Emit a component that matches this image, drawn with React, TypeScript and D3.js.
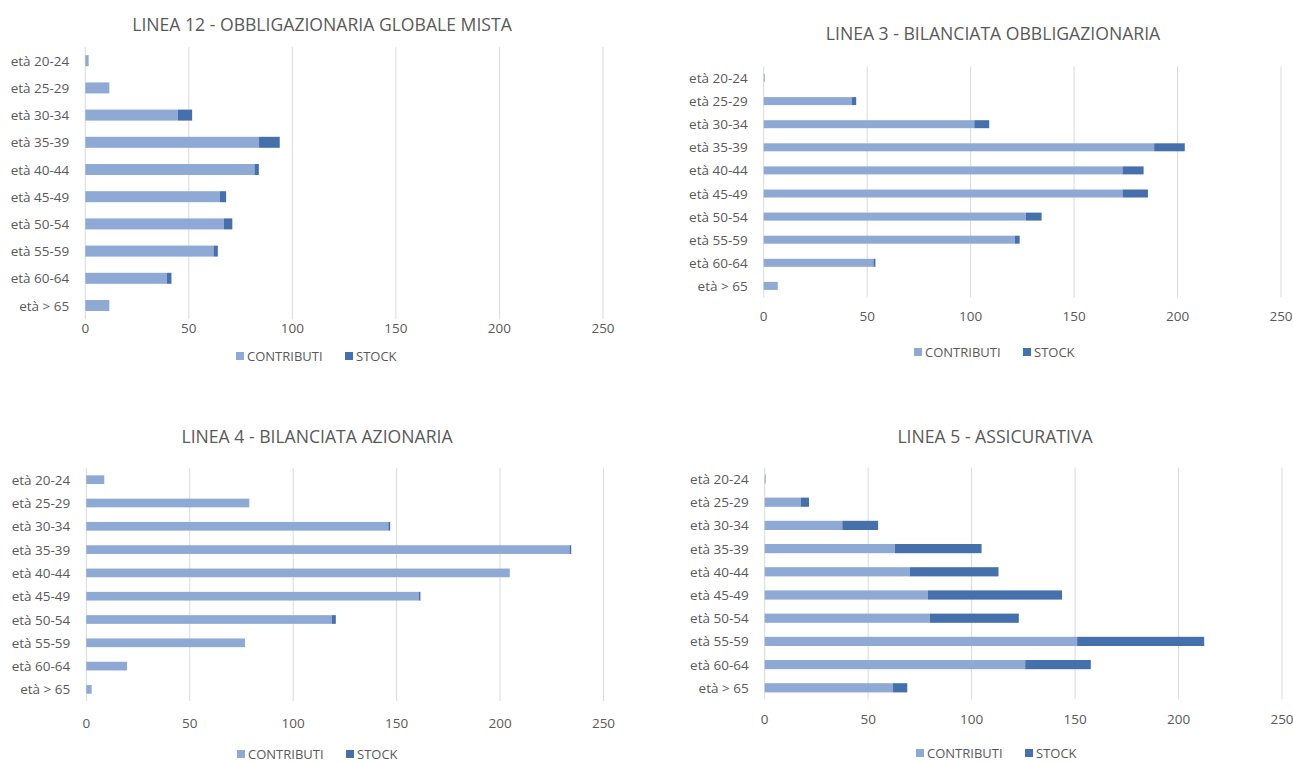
import React from "react";
import * as d3 from "d3";

const categories = ["età 20-24", "età 25-29", "età 30-34", "età 35-39", "età 40-44", "età 45-49", "età 50-54", "età 55-59", "età 60-64", "età > 65"];
const xTicks = [0, 50, 100, 150, 200, 250];
const seriesNames = ["CONTRIBUTI", "STOCK"];

const titles = [
  "LINEA 12 - OBBLIGAZIONARIA GLOBALE MISTA",
  "LINEA 3 - BILANCIATA OBBLIGAZIONARIA",
  "LINEA 4 - BILANCIATA AZIONARIA",
  "LINEA 5 - ASSICURATIVA",
];

const linea12Contributi = [1.6, 11.6, 44.7, 83.9, 81.7, 65, 66.9, 61.9, 39.4, 11.6];
const linea12Stock = [0, 0, 6.9, 10, 2.1, 3, 4.1, 2.1, 2.2, 0];
const linea3Contributi = [0.5, 42.6, 101.8, 188.7, 173.4, 173.4, 126.7, 121.4, 53, 6.8];
const linea3Stock = [0, 2.1, 7.2, 14.8, 10.2, 12.3, 7.6, 2.3, 1, 0];
const linea4Contributi = [8.7, 78.8, 146, 233.6, 204.7, 160.7, 118.7, 76.7, 19.7, 2.6];
const linea4Stock = [0, 0, 0.9, 0.8, 0, 0.8, 1.9, 0, 0, 0];
const linea5Contributi = [0.5, 17.4, 37.5, 62.9, 70.1, 78.9, 79.8, 151, 125.9, 61.9];
const linea5Stock = [0, 4, 17.3, 41.9, 42.9, 64.8, 43, 61.4, 31.7, 7];

const panelData = [
  [linea12Contributi, linea12Stock],
  [linea3Contributi, linea3Stock],
  [linea4Contributi, linea4Stock],
  [linea5Contributi, linea5Stock],
];

// layout (pixels)
const layouts = [
  { titleX: 322, titleY: 24, x0: 85.3, x1: 603, firstY: 60.7, step: 27.2, barH: 11, tickY: 328, legendX: 236, legendY: 356 },
  { titleX: 993, titleY: 33, x0: 763.7, x1: 1281, firstY: 78, step: 23.1, barH: 8, tickY: 316, legendX: 914, legendY: 352 },
  { titleX: 317, titleY: 436, x0: 86.3, x1: 603.5, firstY: 479.7, step: 23.3, barH: 8.7, tickY: 723, legendX: 237, legendY: 754 },
  { titleX: 995, titleY: 436, x0: 764.7, x1: 1282, firstY: 479, step: 23.2, barH: 9.2, tickY: 719, legendX: 916, legendY: 753 },
];

const colors = ["#8FA9D5", "#4670AB"];
const textColor = "#595959";
const gridColor = "#D9D9D9";
const font = "'Open Sans', sans-serif";

function Panel({ idx }: { idx: number }) {
  const L = layouts[idx];
  const [contrib, stock] = panelData[idx];
  const x = d3.scaleLinear().domain([0, 250]).range([L.x0, L.x1]);
  const top = L.firstY - L.step / 2;
  const bottom = top + L.step * categories.length;
  const y = d3.scaleBand<string>().domain(categories).range([top, bottom]).paddingInner(0).paddingOuter(0);
  const stacked = d3.stack<number>().keys([0, 1] as any).value((i: any, k: any) => (k === 0 ? contrib[i] : stock[i]))(d3.range(categories.length) as any);

  return (
    <g>
      <text x={L.titleX} y={L.titleY} textAnchor="middle" dominantBaseline="central" fontSize={17.6} fill={textColor} fontFamily={font}>
        {titles[idx]}
      </text>
      {xTicks.map((t) => (
        <g key={t}>
          <line x1={x(t)} x2={x(t)} y1={top} y2={bottom} stroke={gridColor} strokeWidth={1} />
          <text x={x(t)} y={L.tickY} textAnchor="middle" dominantBaseline="central" fontSize={13.5} fill={textColor} fontFamily={font}>
            {t}
          </text>
        </g>
      ))}
      {categories.map((c) => (
        <text key={c} x={L.x0 - 16} y={(y(c) as number) + y.bandwidth() / 2} textAnchor="end" dominantBaseline="central" fontSize={13.5} fill={textColor} fontFamily={font}>
          {c}
        </text>
      ))}
      {stacked.map((s, si) => (
        <g key={si} fill={colors[si]}>
          {s.map((d, i) => {
            const w = x(d[1]) - x(d[0]);
            if (w <= 0) return null;
            const cy = (y(categories[i]) as number) + y.bandwidth() / 2;
            return <rect key={i} x={x(d[0])} y={cy - L.barH / 2} width={Math.max(w, 1)} height={L.barH} />;
          })}
        </g>
      ))}
      <g>
        <rect x={L.legendX} y={L.legendY - 4} width={8} height={8} fill={colors[0]} />
        <text x={L.legendX + 11} y={L.legendY} dominantBaseline="central" fontSize={13} fill={textColor} fontFamily={font}>
          {seriesNames[0]}
        </text>
        <rect x={L.legendX + 109} y={L.legendY - 4} width={8} height={8} fill={colors[1]} />
        <text x={L.legendX + 120} y={L.legendY} dominantBaseline="central" fontSize={13} fill={textColor} fontFamily={font}>
          {seriesNames[1]}
        </text>
      </g>
    </g>
  );
}

export default function App() {
  return (
    <svg width={1293} height={763} style={{ position: "absolute", left: 0, top: 0, background: "#fff" }}>
      <rect width={1293} height={763} fill="#fff" />
      {[0, 1, 2, 3].map((i) => (
        <Panel key={i} idx={i} />
      ))}
    </svg>
  );
}
